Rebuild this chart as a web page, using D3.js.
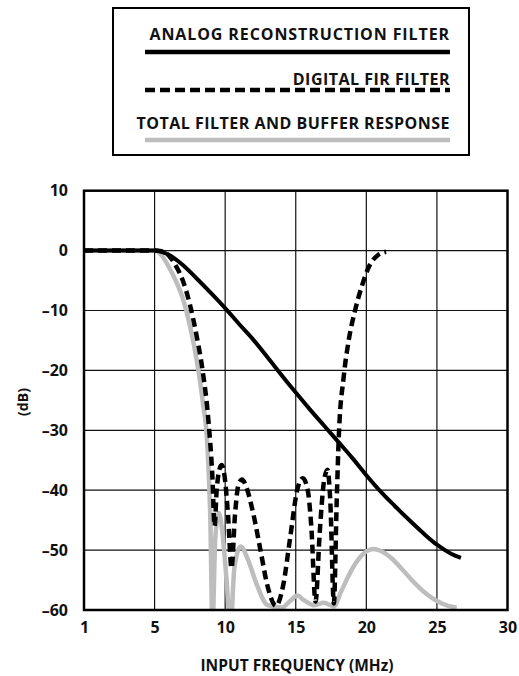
<!DOCTYPE html>
<html>
<head>
<meta charset="utf-8">
<script src="https://cdn.jsdelivr.net/npm/d3@7"></script>
<style>
  body { margin: 0; background: #fff; }
  svg text { font-family: "Open Sans", sans-serif; font-weight: 700; fill: #111; }
</style>
</head>
<body>
<div id="graph"></div>
<script>
// tick values (x axis is evenly spaced per tick, not linear from 1)
var xTicks = [1, 5, 10, 15, 20, 25, 30];
var yTicks = [10, 0, -10, -20, -30, -40, -50, -60];

// analog reconstruction filter (MHz, dB)
var analogF = [1, 3, 5, 5.5, 6, 7, 8, 9, 10, 11, 12, 13, 14, 15, 16, 17, 18, 19, 20, 21, 22, 23, 24, 25, 26, 26.7];
var analogDb = [0, 0, 0, -0.2, -0.7, -2.4, -4.7, -7.1, -9.6, -12.3, -14.9, -17.8, -20.8, -23.7, -26.5, -29.2, -31.9, -34.6, -37.5, -40.2, -42.6, -44.9, -47.1, -49.1, -50.6, -51.3];

// digital FIR filter
var firF = [1, 3, 5, 5.5, 6, 6.5, 7, 7.5, 8, 8.4, 8.8, 9.1, 9.25, 9.4, 9.55, 9.75, 9.95, 10.2, 10.45, 10.7, 10.95, 11.2, 11.5, 12, 12.5, 13, 13.6, 14.1, 14.6, 15.1, 15.5, 15.85, 16.1, 16.4, 16.7, 17, 17.25, 17.45, 17.7, 17.9, 18.05, 18.4, 18.75, 19.2, 19.7, 20.2, 20.8, 21.4];
var firDb = [0, 0, 0, -0.1, -0.8, -2.5, -5, -9, -14.5, -20, -28, -38, -46, -40, -37, -35.8, -37.5, -44, -53, -44, -39, -38.2, -39.5, -44, -50, -56, -59.3, -56, -48, -40, -38, -40, -46, -58.6, -47, -38.5, -36.6, -42, -58.9, -42, -31, -21, -15, -10, -5.8, -2.6, -0.8, -0.2];

// total filter and buffer response
var totalF = [1, 3, 5, 5.5, 6, 6.5, 7, 7.5, 8, 8.4, 8.75, 8.95, 9.1, 9.3, 9.55, 9.8, 10.1, 10.38, 10.65, 11.1, 11.6, 12.2, 13, 14, 14.6, 15.1, 15.6, 16.3, 17, 17.7, 18.2, 18.7, 19.3, 20, 20.5, 21, 21.8, 22.5, 23.3, 24.2, 25, 25.8, 26.4];
var totalDb = [0, 0, 0, -0.8, -2.7, -5, -8, -12.5, -18.5, -25, -33, -45, -63, -48, -43.8, -47, -55, -63, -53, -49.4, -51.5, -55.5, -59.2, -59.6, -58.5, -57.6, -58.4, -59.2, -58.8, -59.4, -57, -54.5, -52, -50.2, -49.8, -50.1, -51.4, -53.1, -55.2, -57.2, -58.5, -59.3, -59.6];

var legendLabels = ["ANALOG RECONSTRUCTION FILTER", "DIGITAL FIR FILTER", "TOTAL FILTER AND BUFFER RESPONSE"];

var width = 519, height = 676;
var pLeft = 84, pRight = 507.5, pTop = 190.7, pBottom = 610;

var svg = d3.select("#graph").append("svg")
  .attr("width", width)
  .attr("height", height);

var xScale = d3.scaleLinear()
  .domain(xTicks)
  .range(xTicks.map(function(d, i) { return pLeft + i * (pRight - pLeft) / (xTicks.length - 1); }));

var yScale = d3.scaleLinear()
  .domain([-60, 10])
  .range([pBottom, pTop]);

svg.append("clipPath").attr("id", "plotclip")
  .append("rect")
  .attr("x", pLeft).attr("y", pTop)
  .attr("width", pRight - pLeft).attr("height", pBottom - pTop);

// grid
var grid = svg.append("g");
grid.selectAll(".vg").data(xTicks.slice(1, -1)).enter().append("line")
  .attr("x1", d => xScale(d)).attr("x2", d => xScale(d))
  .attr("y1", pTop).attr("y2", pBottom)
  .style("stroke", "#111").style("stroke-width", 1.2);
grid.selectAll(".hg").data(yTicks.slice(1, -1)).enter().append("line")
  .attr("x1", pLeft).attr("x2", pRight)
  .attr("y1", d => yScale(d)).attr("y2", d => yScale(d))
  .style("stroke", "#111").style("stroke-width", 1.2);

// curves
var line = d3.line()
  .x(d => xScale(d[0]))
  .y(d => yScale(d[1]))
  .curve(d3.curveMonotoneX);

var curves = svg.append("g").attr("clip-path", "url(#plotclip)");

curves.append("path")
  .datum(d3.zip(totalF, totalDb))
  .attr("d", line)
  .style("fill", "none").style("stroke", "#bdbdbd").style("stroke-width", 4.5);

curves.append("path")
  .datum(d3.zip(analogF, analogDb))
  .attr("d", line)
  .style("fill", "none").style("stroke", "#000").style("stroke-width", 4);

curves.append("path")
  .datum(d3.zip(firF, firDb))
  .attr("d", line)
  .style("fill", "none").style("stroke", "#000").style("stroke-width", 4.5)
  .style("stroke-dasharray", "9,5");

// frame
svg.append("rect")
  .attr("x", pLeft).attr("y", pTop)
  .attr("width", pRight - pLeft).attr("height", pBottom - pTop)
  .style("fill", "none").style("stroke", "#000").style("stroke-width", 2.5);

// axes labels
var xAxis = d3.axisBottom(xScale).tickValues(xTicks).tickSize(0).tickPadding(12);
var gx = svg.append("g").attr("transform", "translate(0," + pBottom + ")").call(xAxis);
gx.select(".domain").remove();
gx.selectAll("text").style("font-size", "16px").attr("font-family", null).attr("fill", "#111");

var yAxis = d3.axisLeft(yScale).tickValues(yTicks).tickSize(0).tickPadding(16)
  .tickFormat(d => d < 0 ? "\u2013" + Math.abs(d) : d);
var gy = svg.append("g").attr("transform", "translate(" + pLeft + ",0)").call(yAxis);
gy.select(".domain").remove();
gy.selectAll("text").style("font-size", "16px").attr("font-family", null).attr("fill", "#111");

svg.append("text")
  .attr("transform", "translate(28,402) rotate(-90)")
  .attr("text-anchor", "middle")
  .style("font-size", "14px")
  .text("(dB)");

svg.append("text")
  .attr("x", 297).attr("y", 671)
  .attr("text-anchor", "middle")
  .style("font-size", "15.5px")
  .text("INPUT FREQUENCY (MHz)");

// legend
var lg = svg.append("g");
lg.append("rect")
  .attr("x", 113).attr("y", 8).attr("width", 356).attr("height", 147)
  .style("fill", "#fff").style("stroke", "#000").style("stroke-width", 2);

var legY = [40, 85, 129];
var legLineY = [52, 90, 140];
var legStyles = [
  { color: "#000", w: 4.5, dash: null },
  { color: "#000", w: 4.5, dash: "10,5" },
  { color: "#bdbdbd", w: 4.5, dash: null }
];

legendLabels.forEach(function(t, i) {
  lg.append("text")
    .attr("x", 450).attr("y", legY[i])
    .attr("text-anchor", "end")
    .style("font-size", "16px")
    .style("letter-spacing", i == 0 ? "0.9px" : "0.5px")
    .text(t);
  lg.append("line")
    .attr("x1", 145).attr("x2", 450)
    .attr("y1", legLineY[i]).attr("y2", legLineY[i])
    .style("stroke", legStyles[i].color)
    .style("stroke-width", legStyles[i].w)
    .style("stroke-dasharray", legStyles[i].dash);
});
</script>
</body>
</html>
